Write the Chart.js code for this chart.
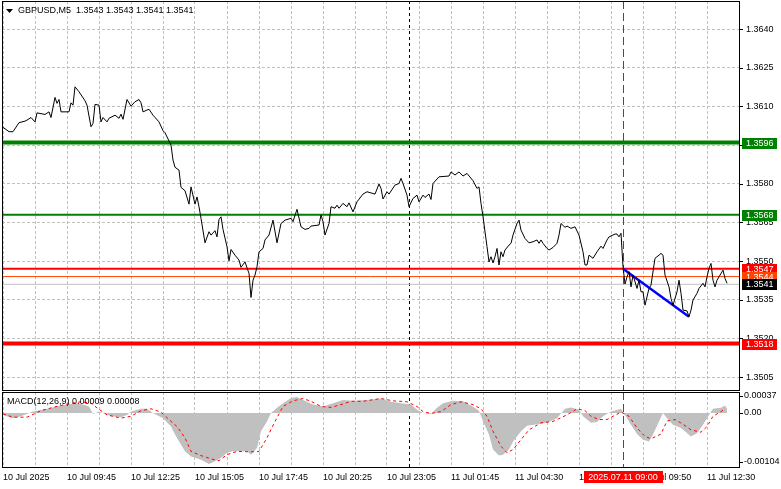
<!DOCTYPE html>
<html>
<head>
<meta charset="utf-8">
<script src="https://cdn.jsdelivr.net/npm/chart.js@4.4.1/dist/chart.umd.min.js"></script>
<style>
  html, body { margin: 0; padding: 0; background: #fff; }
  #quadro { position: relative; width: 781px; height: 489px; overflow: hidden; background: #fff; }
  #painelPreco { position: absolute; left: 0; top: 0; width: 781px; height: 392px; }
  #painelMacd { position: absolute; left: 0; top: 391px; width: 781px; height: 98px; }
</style>
</head>
<body>
<div id="quadro">
  <div id="painelPreco"><canvas id="graficoPreco"></canvas></div>
  <div id="painelMacd"><canvas id="graficoMacd"></canvas></div>
</div>
<script>
// barras M5 contadas a partir da primeira vela visivel (10 Jul 07:05)
const barrasPreco = [0, 3, 5, 8, 11, 12, 14, 16, 17, 21, 23, 24, 26, 27, 28, 29, 33, 34, 35, 36, 38, 41, 42, 44, 45, 46, 48, 49, 50, 52, 53, 56, 58, 59, 60, 62, 64, 66, 68, 69, 70, 72, 73, 75, 78, 80, 81, 84, 85, 86, 88, 89, 91, 93, 94, 96, 97, 98, 99, 101, 103, 104, 106, 107, 108, 109, 110, 112, 113, 114, 116, 118, 119, 121, 123, 124, 125, 126, 127, 128, 130, 131, 133, 135, 137, 139, 141, 144, 145, 147, 149, 151, 153, 154, 158, 159, 160, 161, 163, 164, 166, 167, 168, 170, 172, 173, 175, 177, 180, 182, 186, 188, 189, 190, 192, 193, 196, 198, 199, 200, 202, 203, 205, 207, 208, 210, 211, 213, 214, 215, 218, 223, 224, 226, 228, 230, 232, 235, 237, 238, 239, 240, 242, 243, 244, 245, 246, 247, 248, 249, 250, 251, 253, 254, 255, 257, 258, 259, 261, 263, 265, 267, 268, 269, 270, 272, 273, 275, 277, 278, 279, 281, 282, 284, 286, 288, 290, 291, 292, 293, 295, 297, 299, 300, 302, 303, 305, 306, 307, 308, 309, 310, 311, 312, 313, 314, 315, 317, 318, 319, 320, 321, 323, 324, 326, 328, 329, 330, 331, 333, 334, 335, 337, 338, 339, 340, 342, 343, 344, 345, 347, 348, 350, 351, 352, 353, 354, 355, 356, 357, 358, 360, 361, 362];
const fechamentos = [1.36019, 1.36002, 1.36002, 1.36037, 1.36043, 1.36047, 1.36057, 1.36040, 1.36075, 1.36069, 1.36079, 1.36057, 1.36135, 1.36112, 1.36127, 1.36079, 1.36079, 1.36114, 1.36105, 1.36176, 1.36157, 1.36122, 1.36105, 1.36021, 1.36034, 1.36108, 1.36105, 1.36040, 1.36057, 1.36040, 1.36054, 1.36066, 1.36054, 1.36070, 1.36050, 1.36127, 1.36101, 1.36118, 1.36127, 1.36114, 1.36079, 1.36086, 1.36089, 1.36066, 1.36040, 1.36006, 1.35998, 1.35950, 1.35892, 1.35864, 1.35853, 1.35786, 1.35773, 1.35721, 1.35788, 1.35721, 1.35749, 1.35711, 1.35666, 1.35571, 1.35614, 1.35601, 1.35618, 1.35594, 1.35662, 1.35672, 1.35623, 1.35556, 1.35501, 1.35545, 1.35523, 1.35504, 1.35476, 1.35497, 1.35452, 1.35359, 1.35426, 1.35446, 1.35478, 1.35536, 1.35549, 1.35582, 1.35601, 1.35659, 1.35571, 1.35646, 1.35659, 1.35666, 1.35653, 1.35701, 1.35633, 1.35623, 1.35627, 1.35636, 1.35640, 1.35679, 1.35653, 1.35601, 1.35646, 1.35711, 1.35705, 1.35717, 1.35705, 1.35724, 1.35711, 1.35726, 1.35691, 1.35730, 1.35760, 1.35769, 1.35760, 1.35799, 1.35782, 1.35741, 1.35769, 1.35760, 1.35795, 1.35801, 1.35821, 1.35801, 1.35756, 1.35711, 1.35743, 1.35756, 1.35730, 1.35756, 1.35747, 1.35760, 1.35739, 1.35801, 1.35827, 1.35830, 1.35846, 1.35834, 1.35846, 1.35830, 1.35840, 1.35812, 1.35782, 1.35788, 1.35724, 1.35672, 1.35556, 1.35497, 1.35517, 1.35493, 1.35517, 1.35549, 1.35485, 1.35536, 1.35517, 1.35543, 1.35562, 1.35569, 1.35601, 1.35646, 1.35659, 1.35620, 1.35588, 1.35571, 1.35575, 1.35582, 1.35569, 1.35582, 1.35569, 1.35549, 1.35543, 1.35553, 1.35569, 1.35601, 1.35646, 1.35631, 1.35636, 1.35627, 1.35633, 1.35601, 1.35536, 1.35485, 1.35485, 1.35523, 1.35511, 1.35536, 1.35558, 1.35549, 1.35582, 1.35594, 1.35601, 1.35605, 1.35605, 1.35594, 1.35608, 1.35478, 1.35411, 1.35439, 1.35459, 1.35400, 1.35446, 1.35394, 1.35426, 1.35381, 1.35381, 1.35329, 1.35394, 1.35407, 1.35511, 1.35523, 1.35530, 1.35523, 1.35446, 1.35400, 1.35355, 1.35329, 1.35381, 1.35426, 1.35375, 1.35310, 1.35307, 1.35284, 1.35310, 1.35349, 1.35375, 1.35394, 1.35414, 1.35400, 1.35439, 1.35472, 1.35491, 1.35426, 1.35400, 1.35426, 1.35439, 1.35465, 1.35433, 1.35414];

const niveisPreco = [1.3596, 1.3568, 1.3547, 1.3544, 1.3541, 1.3518];
const ticksPreco = [1.3505, 1.3520, 1.3535, 1.3550, 1.3565, 1.3580, 1.3595, 1.3610, 1.3625, 1.3640];
const barrasTendencia = [310, 343];
const valoresTendencia = [1.3547, 1.35284];

const barrasHistograma = [0, 5, 9, 15, 22, 29, 36, 39, 43, 45, 48, 54, 59, 62, 64, 69, 72, 75, 80, 84, 86, 89, 91, 94, 99, 103, 106, 109, 112, 115, 119, 122, 124, 127, 129, 132, 134, 137, 140, 144, 147, 150, 155, 160, 165, 170, 175, 182, 189, 194, 199, 204, 207, 210, 214, 217, 220, 225, 230, 234, 238, 240, 243, 245, 248, 250, 253, 255, 259, 262, 267, 272, 277, 281, 284, 288, 290, 294, 297, 300, 304, 309, 311, 314, 317, 320, 323, 325, 328, 330, 332, 335, 339, 344, 347, 350, 353, 355, 359, 361, 362];
const valoresHistograma = [-0.00004, -0.00011, -0.00007, 0.00003, 0.00009, 0.00016, 0.00021, 0.00019, 0.00014, -0.00002, 0.00003, -0.00007, -0.00009, -0.00004, 0.00003, 0.00009, 0.00009, 0, -0.00011, -0.00029, -0.00046, -0.00068, -0.00082, -0.00093, -0.00100, -0.00109, -0.00103, -0.00096, -0.00085, -0.00082, -0.00082, -0.00082, -0.00089, -0.00075, -0.00039, -0.00018, 0, 0.00011, 0.00021, 0.00032, 0.00034, 0.00028, 0.00018, 0.00014, 0.00021, 0.00028, 0.00026, 0.00028, 0.00031, 0.00024, 0.00021, 0.00018, 0.00007, 0, -0.00002, 0.00011, 0.00021, 0.00026, 0.00025, 0.00016, 0.00005, -0.00018, -0.00046, -0.00078, -0.00091, -0.00089, -0.00078, -0.00061, -0.00039, -0.00027, -0.00024, -0.00021, -0.00011, 0.00009, 0.00012, 0.00007, -0.00007, -0.00021, -0.00019, -0.00007, 0.00003, 0.00009, -0.00004, -0.00025, -0.00045, -0.00057, -0.00061, -0.00046, -0.00018, 0, -0.00011, -0.00025, -0.00032, -0.00050, -0.00043, -0.00025, -0.00004, 0.00009, 0.00011, 0.00016, 0.00009];

const barrasSinal = [0, 5, 12, 19, 25, 32, 39, 44, 47, 52, 59, 64, 69, 74, 79, 83, 87, 91, 94, 99, 104, 108, 112, 117, 124, 128, 132, 136, 140, 145, 150, 154, 159, 164, 169, 174, 180, 189, 195, 202, 207, 210, 214, 219, 224, 229, 235, 239, 242, 245, 249, 252, 255, 259, 263, 269, 275, 282, 287, 291, 294, 298, 302, 305, 309, 313, 317, 321, 324, 329, 332, 336, 340, 344, 349, 352, 355, 359, 361];
const valoresSinal = [-0.00002, -0.00009, -0.00009, 0.00005, 0.00012, 0.00019, 0.00024, 0.00021, 0.00011, -0.00004, -0.00011, -0.00007, 0.00005, 0.00009, 0.00002, -0.00014, -0.00029, -0.00053, -0.00082, -0.00091, -0.00098, -0.00102, -0.00089, -0.00082, -0.00083, -0.00082, -0.00053, -0.00018, 0.00014, 0.00026, 0.00031, 0.00025, 0.00014, 0.00012, 0.00018, 0.00025, 0.00025, 0.00031, 0.00026, 0.00024, 0.00014, 0.00003, -0.00001, 0.00003, 0.00018, 0.00024, 0.00018, 0.00009, -0.00007, -0.00039, -0.00071, -0.00085, -0.00078, -0.00057, -0.00036, -0.00021, -0.00018, -0.00004, 0.00009, 0.00005, -0.00007, -0.00014, -0.00014, -0.00007, 0.00002, -0.00007, -0.00032, -0.00050, -0.00055, -0.00045, -0.00017, -0.00014, -0.00024, -0.00036, -0.00041, -0.00029, -0.00007, 0.00003, 0.00009];
const ticksMacd = [-0.00104, 0, 0.00037];
const rotulosMacd = ['-0.00104', '0.00', '0.00037'];

const barrasRotuloX = [0, 32, 64, 96, 128, 160, 192, 224, 256, 288, 320, 352];
const rotulosX = ['10 Jul 2025', '10 Jul 09:45', '10 Jul 12:25', '10 Jul 15:05', '10 Jul 17:45', '10 Jul 20:25', '10 Jul 23:05', '11 Jul 01:45', '11 Jul 04:30', '11 Jul 07:10', '11 Jul 09:50', '11 Jul 12:30'];
const barraSeparadorDia = 203;
const barraMarcada = 310;
const rotuloMarcado = '2025.07.11 09:00';
const tituloSimbolo = 'GBPUSD,M5';
const tituloValores = '1.3543 1.3543 1.3541 1.3541';
const tituloMacd = 'MACD(12,26,9) 0.00009 0.00008';

const estilosNiveis = [
  { cor: '#008000', largura: 4, fundo: '#008000' },
  { cor: '#008000', largura: 2, fundo: '#008000' },
  { cor: '#ff0000', largura: 2, fundo: '#ff0000' },
  { cor: '#ff4500', largura: 1, fundo: '#ff4500' },
  { cor: '#c0c0c0', largura: 1, fundo: '#000000' },
  { cor: '#ff0000', largura: 4, fundo: '#ff0000' }
];

const FONTE = '9px "Liberation Sans", Arial, sans-serif';
const X_MIN = -0.5, X_MAX = 368;
const PASSO_GRADE = 16;
const COR_GRADE = '#c0c0c0';

Chart.defaults.font.family = '"Liberation Sans", Arial, sans-serif';
Chart.defaults.font.size = 9;
Chart.defaults.color = '#000';

function juntarPontos(barras, valores) {
  return barras.map((b, k) => ({ x: b, y: valores[k] }));
}

function ticksGrade(scale) {
  const lista = [];
  for (let b = 0; b <= 352; b += PASSO_GRADE) lista.push({ value: b });
  scale.ticks = lista;
}

// o eixo vertical nao pode empurrar a area do grafico
function eixoDireito(scale) {
  scale.width = 42;
  scale.paddingTop = 0;
  scale.paddingBottom = 0;
}

function linhaVertical(ctx, area, x, cor, traco) {
  const px = Math.round(x) + 0.5;
  ctx.strokeStyle = cor;
  ctx.setLineDash(traco);
  ctx.beginPath();
  ctx.moveTo(px, area.top);
  ctx.lineTo(px, area.bottom);
  ctx.stroke();
}

const linhasVerticais = {
  id: 'linhasVerticais',
  beforeDatasetsDraw(chart) {
    const { ctx, chartArea, scales } = chart;
    ctx.save();
    ctx.lineWidth = 1;
    linhaVertical(ctx, chartArea, scales.x.getPixelForValue(barraSeparadorDia), '#000', [3, 3]);
    linhaVertical(ctx, chartArea, scales.x.getPixelForValue(barraMarcada), '#ff0000', [8, 4]);
    ctx.restore();
  }
};

const moldura = {
  id: 'moldura',
  afterDraw(chart) {
    const { ctx, chartArea: a, scales } = chart;
    ctx.save();
    ctx.strokeStyle = '#000';
    ctx.lineWidth = 1;
    ctx.setLineDash([]);
    ctx.strokeRect(Math.round(a.left) + 0.5, Math.round(a.top) + 0.5, Math.round(a.right - a.left), Math.round(a.bottom - a.top));
    scales.y.ticks.forEach(t => {
      const py = Math.round(scales.y.getPixelForValue(t.value)) + 0.5;
      ctx.beginPath();
      ctx.moveTo(a.right, py);
      ctx.lineTo(a.right + 4, py);
      ctx.stroke();
    });
    ctx.restore();
  }
};

const rotulosNiveis = {
  id: 'rotulosNiveis',
  afterDraw(chart) {
    const { ctx, chartArea: a, scales: { y } } = chart;
    ctx.save();
    ctx.font = FONTE;
    ctx.textBaseline = 'middle';
    niveisPreco.forEach((nivel, k) => {
      const py = Math.round(y.getPixelForValue(nivel));
      ctx.fillStyle = estilosNiveis[k].fundo;
      ctx.fillRect(a.right + 3, py - 5, 35, 11);
      ctx.fillStyle = '#fff';
      ctx.fillText(nivel.toFixed(4), a.right + 7, py + 1);
    });

    // titulo do simbolo
    ctx.fillStyle = '#000';
    ctx.beginPath();
    ctx.moveTo(6, 9);
    ctx.lineTo(13, 9);
    ctx.lineTo(9.5, 13);
    ctx.closePath();
    ctx.fill();
    ctx.fillText(tituloSimbolo + '  ' + tituloValores, 18, 11);
    ctx.restore();
  }
};

const rotulosMacdPlugin = {
  id: 'rotulosMacdPlugin',
  afterDraw(chart) {
    const { ctx, scales: { x } } = chart;
    ctx.save();
    ctx.font = FONTE;
    ctx.textBaseline = 'middle';
    ctx.fillStyle = '#000';
    ctx.fillText(tituloMacd, 7, 11);

    const px = x.getPixelForValue(barraMarcada);
    const larg = 79;
    ctx.fillStyle = '#ff0000';
    ctx.fillRect(Math.round(px - larg / 2), 80, larg, 12);
    ctx.fillStyle = '#fff';
    ctx.textAlign = 'center';
    ctx.fillText(rotuloMarcado, px, 86.5);
    ctx.restore();
  }
};

const datasetsPreco = [{
  data: juntarPontos(barrasPreco, fechamentos),
  borderColor: '#000',
  borderWidth: 1,
  pointRadius: 0,
  tension: 0,
  order: 0
}, {
  data: juntarPontos(barrasTendencia, valoresTendencia),
  borderColor: '#0000ff',
  borderWidth: 2.5,
  pointRadius: 0,
  order: 1
}];

niveisPreco.forEach((nivel, k) => {
  datasetsPreco.push({
    data: [{ x: X_MIN, y: nivel }, { x: X_MAX, y: nivel }],
    borderColor: estilosNiveis[k].cor,
    borderWidth: estilosNiveis[k].largura,
    pointRadius: 0,
    order: 2
  });
});

let graficoPreco = new Chart(document.getElementById('graficoPreco'), {
  type: 'line',
  data: { datasets: datasetsPreco },
  options: {
    responsive: true,
    maintainAspectRatio: false,
    animation: false,
    layout: { padding: { left: 2, top: 1, right: 0, bottom: 2 } },
    plugins: { legend: { display: false }, tooltip: { enabled: false } },
    scales: {
      x: {
        type: 'linear',
        min: X_MIN,
        max: X_MAX,
        afterBuildTicks: ticksGrade,
        afterFit: s => { s.height = 0; s.paddingLeft = 0; s.paddingRight = 0; },
        ticks: { display: false },
        grid: { color: COR_GRADE, drawTicks: false },
        border: { display: false, dash: [3, 2] }
      },
      y: {
        position: 'right',
        min: 1.3500,
        max: 1.36509,
        afterBuildTicks: s => { s.ticks = ticksPreco.map(v => ({ value: v })); },
        afterFit: eixoDireito,
        ticks: { padding: 7, callback: v => v.toFixed(4) },
        grid: { color: COR_GRADE, drawTicks: false },
        border: { display: false, dash: [3, 2] }
      }
    }
  },
  plugins: [linhasVerticais, moldura, rotulosNiveis]
});

let graficoMacd = new Chart(document.getElementById('graficoMacd'), {
  type: 'line',
  data: {
    datasets: [{
      data: juntarPontos(barrasSinal, valoresSinal),
      borderColor: '#ff0000',
      borderWidth: 1,
      borderDash: [3, 3],
      pointRadius: 0,
      order: 0
    }, {
      data: juntarPontos(barrasHistograma, valoresHistograma),
      borderColor: 'transparent',
      borderWidth: 0,
      backgroundColor: '#c0c0c0',
      fill: 'origin',
      pointRadius: 0,
      order: 1
    }]
  },
  options: {
    responsive: true,
    maintainAspectRatio: false,
    animation: false,
    layout: { padding: { left: 2, top: 1, right: 0, bottom: 0 } },
    plugins: { legend: { display: false }, tooltip: { enabled: false } },
    scales: {
      x: {
        type: 'linear',
        min: X_MIN,
        max: X_MAX,
        afterBuildTicks: ticksGrade,
        afterFit: s => { s.height = 22; s.paddingLeft = 0; s.paddingRight = 0; },
        ticks: {
          autoSkip: false,
          maxRotation: 0,
          minRotation: 0,
          align: 'start',
          padding: 5,
          callback: v => {
            const k = barrasRotuloX.indexOf(v);
            return k >= 0 ? rotulosX[k] : '';
          }
        },
        grid: { color: COR_GRADE, drawTicks: false },
        border: { display: false, dash: [3, 2] }
      },
      y: {
        position: 'right',
        min: -0.001154,
        max: 0.000449,
        afterBuildTicks: s => { s.ticks = ticksMacd.map(v => ({ value: v })); },
        afterFit: eixoDireito,
        ticks: {
          padding: 5,
          callback: v => {
            const k = ticksMacd.indexOf(v);
            return k >= 0 ? rotulosMacd[k] : '';
          }
        },
        grid: { drawOnChartArea: false, drawTicks: false },
        border: { display: false }
      }
    }
  },
  plugins: [linhasVerticais, moldura, rotulosMacdPlugin]
});
</script>
</body>
</html>
